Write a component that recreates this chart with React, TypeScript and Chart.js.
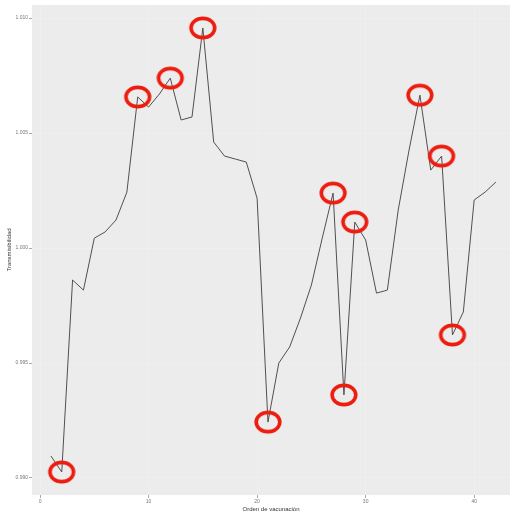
import React, { useEffect, useRef } from "react";
import { Chart, registerables } from "chart.js";

Chart.register(...registerables);

// Orden de vacunación (x) and values (y)
const order = [1, 2, 3, 4, 5, 6, 7, 8, 9, 10, 11, 12, 13, 14, 15, 16, 17, 18, 19, 20, 21, 22, 23, 24, 25, 26, 27, 28, 29, 30, 31, 32, 33, 34, 35, 36, 37, 38, 39, 40, 41, 42];
const values = [
  0.99096, 0.99026, 0.99861, 0.99817, 1.00043, 1.0007, 1.00122, 1.00243, 1.00657, 1.00613,
  1.0067, 1.00739, 1.00557, 1.0057, 1.00957, 1.00461, 1.004, 1.00387, 1.00374, 1.00217,
  0.99243, 0.995, 0.9957, 0.99696, 0.99839, 1.00043, 1.00239, 0.99361, 1.00113, 1.00035,
  0.99804, 0.99817, 1.00165, 1.00426, 1.00665, 1.00339, 1.004, 0.99622, 0.99722, 1.00209,
  1.00243, 1.00287,
];
const highlighted = [2, 9, 12, 15, 21, 27, 28, 29, 35, 37, 38];
const yTicks = [0.99, 0.995, 1.0, 1.005, 1.01];
const xTicks = [0, 10, 20, 30, 40];
const xTitle = "Orden de vacunación";
const yTitle = "Transmisibilidad";

function makeEllipse(): HTMLCanvasElement {
  const c = document.createElement("canvas");
  c.width = 30;
  c.height = 26;
  const ctx = c.getContext("2d")!;
  ctx.strokeStyle = "#ec1c0e";
  ctx.lineWidth = 3.6;
  ctx.beginPath();
  ctx.ellipse(15, 13, 11.8, 9.6, 0, 0, Math.PI * 2);
  ctx.stroke();
  return c;
}

const panelBg = {
  id: "panelBg",
  beforeDraw(chart: any) {
    const { ctx, chartArea } = chart;
    ctx.save();
    ctx.fillStyle = "#ececec";
    ctx.fillRect(chartArea.left, chartArea.top, chartArea.right - chartArea.left, chartArea.bottom - chartArea.top);
    ctx.restore();
  },
};

export default function App() {
  const ref = useRef<HTMLCanvasElement>(null);
  useEffect(() => {
    const lineData = order.map((x, i) => ({ x, y: values[i] }));
    const hiData = highlighted.map((x) => ({ x, y: values[order.indexOf(x)] }));
    const ellipse = makeEllipse();
    const chart = new Chart(ref.current!, {
      type: "line",
      data: {
        datasets: [
          {
            data: hiData,
            showLine: false,
            pointStyle: ellipse as any,
            pointRadius: 12,
            borderColor: "#ec1c0e",
            backgroundColor: "transparent",
            order: 0,
          },
          {
            data: lineData,
            borderColor: "#505050",
            borderWidth: 1,
            pointRadius: 0,
            tension: 0,
            order: 1,
          },
        ],
      },
      options: {
        animation: false,
        responsive: false,
        maintainAspectRatio: false,
        layout: { autoPadding: false, padding: { top: 5, right: 5, left: 0, bottom: 0 } },
        plugins: { legend: { display: false }, tooltip: { enabled: false } },
        scales: {
          x: {
            type: "linear",
            min: -0.74,
            max: 43.3,
            afterBuildTicks: (s: any) => {
              s.ticks = xTicks.map((v) => ({ value: v }));
            },
            afterFit: (s: any) => {
              s.height = 18;
            },
            border: { display: false },
            grid: { color: "rgba(255,255,255,0.2)", lineWidth: 1, tickColor: "#aaa", tickLength: 3 },
            ticks: { color: "#777", font: { size: 5, family: "Liberation Sans" }, padding: 1, maxRotation: 0 },
            title: { display: true, text: xTitle, color: "#333", font: { size: 6, family: "Liberation Sans" }, padding: 0 },
          },
          y: {
            type: "linear",
            min: 0.98926,
            max: 1.01057,
            afterBuildTicks: (s: any) => {
              s.ticks = yTicks.map((v) => ({ value: v }));
            },
            afterFit: (s: any) => {
              s.width = 32;
            },
            border: { display: false },
            grid: { color: "rgba(255,255,255,0.2)", lineWidth: 1, tickColor: "#aaa", tickLength: 3 },
            ticks: {
              color: "#777",
              font: { size: 5, family: "Liberation Sans" },
              padding: 1,
              callback: (v: any) => Number(v).toFixed(3),
            },
            title: { display: true, text: yTitle, color: "#333", font: { size: 6, family: "Liberation Sans" }, padding: { top: 6, bottom: 0 } },
          },
        },
      },
      plugins: [panelBg],
    });
    return () => chart.destroy();
  }, []);
  return (
    <div style={{ position: "fixed", left: 0, top: 0, width: 515, height: 513, background: "#fff" }}>
      <canvas ref={ref} width={515} height={513} style={{ width: 515, height: 513, display: "block" }} />
    </div>
  );
}
